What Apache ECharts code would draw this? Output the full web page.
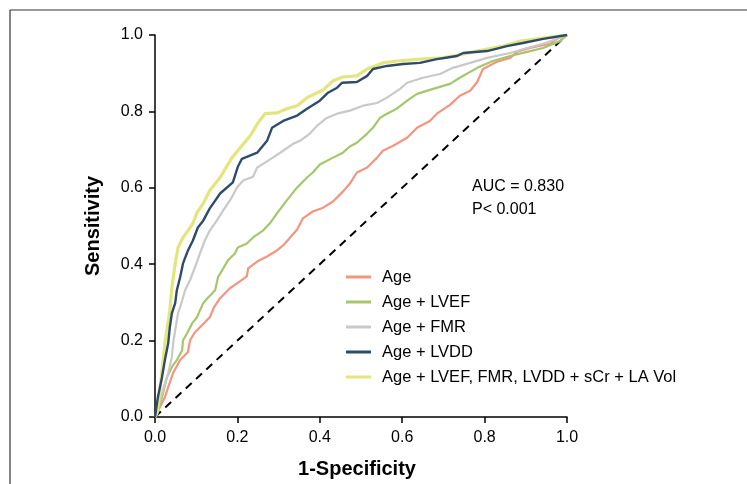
<!DOCTYPE html>
<html>
<head>
<meta charset="utf-8">
<script src="https://cdn.jsdelivr.net/npm/echarts@6/dist/echarts.min.js"></script>
<style>
html,body{margin:0;padding:0;background:#fff;}
#chart{width:747px;height:484px;}
</style>
</head>
<body>
<div id="chart"></div>
<script>
const xTicks = [0, 0.2, 0.4, 0.6, 0.8, 1.0];
const yTicks = [0, 0.2, 0.4, 0.6, 0.8, 1.0];
const seriesNames = ['Age', 'Age + LVEF', 'Age + FMR', 'Age + LVDD', 'Age + LVEF, FMR, LVDD + sCr + LA Vol'];

const ageFpr = [0,0.012,0.024,0.032,0.044,0.061,0.080,0.085,0.097,0.114,0.133,0.143,0.158,0.182,0.199,0.223,0.226,0.248,0.272,0.296,0.311,0.328,0.345,0.359,0.383,0.408,0.432,0.456,0.473,0.490,0.515,0.539,0.553,0.578,0.612,0.636,0.667,0.684,0.716,0.740,0.765,0.782,0.796,0.830,0.862,0.879,0.910,0.959,0.976,1];
const ageTpr = [0,0.026,0.052,0.078,0.115,0.149,0.170,0.201,0.222,0.240,0.261,0.287,0.311,0.337,0.350,0.368,0.389,0.407,0.420,0.436,0.449,0.470,0.491,0.520,0.538,0.548,0.564,0.590,0.611,0.640,0.653,0.679,0.697,0.710,0.731,0.757,0.775,0.794,0.817,0.841,0.854,0.877,0.911,0.930,0.940,0.956,0.966,0.977,0.990,1];

const lvefFpr = [0,0.005,0.017,0.029,0.041,0.053,0.066,0.068,0.078,0.090,0.102,0.109,0.117,0.129,0.146,0.153,0.163,0.177,0.194,0.201,0.223,0.238,0.262,0.279,0.296,0.320,0.345,0.369,0.383,0.400,0.432,0.456,0.473,0.490,0.515,0.529,0.546,0.563,0.587,0.612,0.636,0.675,0.716,0.740,0.782,0.820,0.862,0.903,0.942,0.983,1];
const lvefTpr = [0,0.010,0.052,0.104,0.131,0.149,0.175,0.201,0.219,0.245,0.261,0.279,0.298,0.313,0.332,0.366,0.384,0.410,0.428,0.444,0.454,0.470,0.488,0.507,0.533,0.567,0.601,0.627,0.640,0.661,0.679,0.692,0.708,0.718,0.742,0.757,0.783,0.794,0.807,0.828,0.846,0.859,0.872,0.888,0.914,0.932,0.945,0.956,0.966,0.984,1];

const fmrFpr = [0,0.005,0.019,0.032,0.041,0.044,0.049,0.056,0.066,0.073,0.085,0.097,0.109,0.121,0.133,0.150,0.165,0.182,0.199,0.214,0.238,0.248,0.267,0.286,0.311,0.335,0.352,0.376,0.393,0.417,0.442,0.473,0.505,0.539,0.563,0.595,0.612,0.650,0.692,0.723,0.765,0.806,0.862,0.903,0.942,0.976,1];
const fmrTpr = [0,0.018,0.070,0.115,0.157,0.193,0.227,0.272,0.305,0.332,0.358,0.392,0.428,0.462,0.488,0.514,0.540,0.567,0.601,0.619,0.629,0.653,0.666,0.679,0.697,0.715,0.723,0.742,0.762,0.783,0.794,0.802,0.815,0.822,0.836,0.859,0.875,0.888,0.898,0.914,0.927,0.940,0.953,0.966,0.977,0.990,1];

const lvddFpr = [0,0.007,0.017,0.024,0.032,0.036,0.041,0.049,0.053,0.061,0.068,0.080,0.092,0.104,0.117,0.133,0.158,0.189,0.201,0.211,0.248,0.272,0.284,0.311,0.345,0.369,0.400,0.420,0.442,0.454,0.490,0.515,0.529,0.563,0.602,0.643,0.684,0.733,0.748,0.806,0.854,0.893,0.942,1];
const lvddTpr = [0,0.052,0.104,0.149,0.193,0.235,0.272,0.298,0.332,0.366,0.402,0.436,0.462,0.496,0.514,0.546,0.585,0.614,0.655,0.676,0.692,0.723,0.757,0.775,0.789,0.807,0.828,0.849,0.862,0.875,0.877,0.893,0.911,0.919,0.924,0.927,0.937,0.945,0.953,0.958,0.971,0.979,0.990,1];

const allFpr = [0,0.005,0.012,0.019,0.024,0.036,0.041,0.049,0.056,0.068,0.080,0.092,0.102,0.117,0.133,0.158,0.187,0.231,0.250,0.267,0.296,0.320,0.345,0.369,0.408,0.432,0.456,0.490,0.515,0.553,0.587,0.643,0.699,0.748,0.782,0.845,0.886,0.942,1];
const allTpr = [0,0.010,0.070,0.141,0.193,0.279,0.339,0.402,0.444,0.470,0.488,0.507,0.535,0.559,0.593,0.627,0.679,0.736,0.770,0.794,0.796,0.807,0.815,0.836,0.856,0.880,0.890,0.893,0.911,0.927,0.932,0.937,0.940,0.950,0.958,0.971,0.984,0.992,1];

const refLine = [[0,0],[1,1]];
const annotation = ['AUC = 0.830', 'P< 0.001'];

const zip = (a, b) => a.map((v, i) => [v, b[i]]);
const FONT = '"Liberation Sans", Arial, Helvetica, sans-serif';

const chart = echarts.init(document.getElementById('chart'));
chart.setOption({
  animation: false,
  backgroundColor: '#fff',
  grid: {left: 155, top: 35, width: 412, height: 382, containLabel: false},
  xAxis: {
    type: 'value', min: 0, max: 1, interval: 0.2,
    name: '1-Specificity', nameLocation: 'middle', nameGap: 42,
    nameTextStyle: {fontFamily: FONT, fontSize: 20, fontWeight: 'bold', color: '#000', padding: [0, 8, 0, 0]},
    axisLine: {show: true, lineStyle: {color: '#000', width: 1.5}},
    axisTick: {show: true, length: 6, lineStyle: {color: '#000', width: 1.5}},
    axisLabel: {fontFamily: FONT, fontSize: 16, color: '#000', margin: 13,
      formatter: v => v.toFixed(1)},
    splitLine: {show: false}
  },
  yAxis: {
    type: 'value', min: 0, max: 1, interval: 0.2,
    name: 'Sensitivity', nameLocation: 'middle', nameGap: 52,
    nameTextStyle: {fontFamily: FONT, fontSize: 20, fontWeight: 'bold', color: '#000'},
    axisLine: {show: true, lineStyle: {color: '#000', width: 1.5}},
    axisTick: {show: true, length: 6, lineStyle: {color: '#000', width: 1.5}},
    axisLabel: {fontFamily: FONT, fontSize: 16, color: '#000', margin: 12,
      formatter: v => v.toFixed(1)},
    splitLine: {show: false}
  },
  legend: {
    orient: 'vertical', left: 346, top: 268, padding: 0,
    data: seriesNames,
    icon: 'rect', itemWidth: 25, itemHeight: 3, itemGap: 7,
    textStyle: {fontFamily: FONT, fontSize: 16.5, color: '#000', lineHeight: 18, padding: [0,0,0,6]}
  },
  graphic: [
    {type: 'line', shape: {x1: 10, y1: 10, x2: 747, y2: 10}, style: {stroke: '#333', lineWidth: 1.2}},
    {type: 'line', shape: {x1: 10, y1: 10, x2: 10, y2: 484}, style: {stroke: '#333', lineWidth: 1.2}},
    {type: 'text', left: 472, top: 179, style: {text: annotation[0], font: '16px ' + FONT, fill: '#000'}},
    {type: 'text', left: 472, top: 202, style: {text: annotation[1], font: '16px ' + FONT, fill: '#000'}}
  ],
  series: [
    {name: 'ref', type: 'line', data: refLine, showSymbol: false, silent: true, z: 1,
      lineStyle: {color: '#000', width: 2, type: [8, 6]}},
    {name: seriesNames[0], type: 'line', data: zip(ageFpr, ageTpr), showSymbol: false, z: 2,
      itemStyle: {color: '#F5957F'}, lineStyle: {color: '#F5957F', width: 2.2}},
    {name: seriesNames[1], type: 'line', data: zip(lvefFpr, lvefTpr), showSymbol: false, z: 3,
      itemStyle: {color: '#A6C66C'}, lineStyle: {color: '#A6C66C', width: 2.2}},
    {name: seriesNames[2], type: 'line', data: zip(fmrFpr, fmrTpr), showSymbol: false, z: 4,
      itemStyle: {color: '#C9C9C9'}, lineStyle: {color: '#C9C9C9', width: 2.2}},
    {name: seriesNames[4], type: 'line', data: zip(allFpr, allTpr), showSymbol: false, z: 5,
      itemStyle: {color: '#E3E67C'}, lineStyle: {color: '#E3E67C', width: 3.2}},
    {name: seriesNames[3], type: 'line', data: zip(lvddFpr, lvddTpr), showSymbol: false, z: 6,
      itemStyle: {color: '#2F4B6C'}, lineStyle: {color: '#2F4B6C', width: 2.4}}
  ]
});
</script>
</body>
</html>
